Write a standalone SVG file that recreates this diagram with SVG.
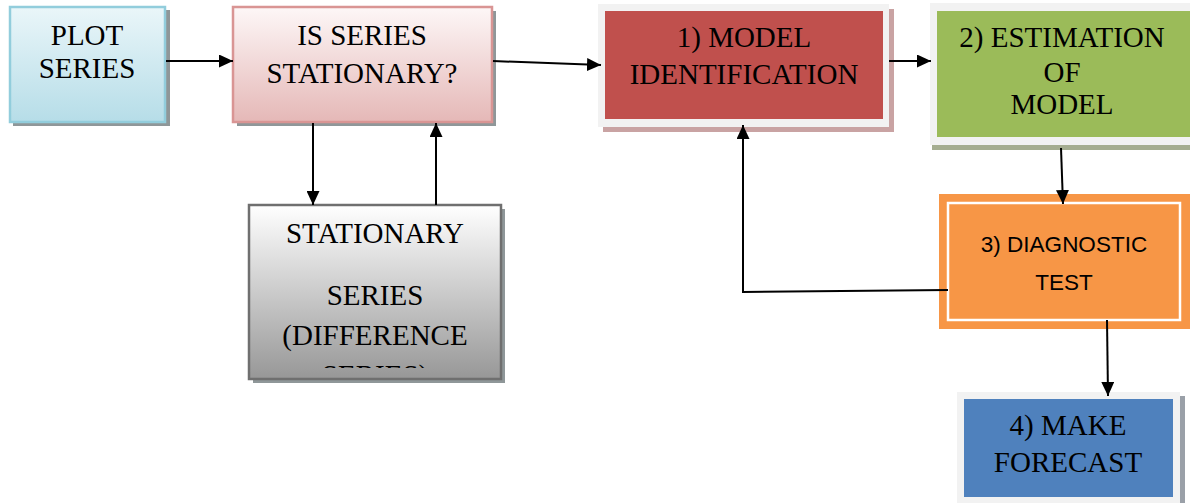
<svg xmlns="http://www.w3.org/2000/svg" width="1190" height="503" viewBox="0 0 1190 503">
<defs>
<linearGradient id="gBlue" x1="0" y1="0" x2="0" y2="1"><stop offset="0" stop-color="#eaf6f9"/><stop offset="1" stop-color="#b6dde8"/></linearGradient>
<linearGradient id="gPink" x1="0" y1="0" x2="0" y2="1"><stop offset="0" stop-color="#fdf7f7"/><stop offset="1" stop-color="#e5b8b7"/></linearGradient>
<linearGradient id="gGray" x1="0" y1="0" x2="0" y2="1"><stop offset="0" stop-color="#ffffff"/><stop offset="1" stop-color="#979797"/></linearGradient>
<marker id="arr" markerWidth="14" markerHeight="13" refX="14" refY="6.5" orient="auto" markerUnits="userSpaceOnUse"><path d="M0,0 L14,6.5 L0,13 Z" fill="#000"/></marker>
<clipPath id="clipStat"><rect x="249" y="205" width="252" height="163"/></clipPath>
</defs>
<style>
.t{font-family:"Liberation Serif","Times New Roman",serif;font-size:29px;fill:#000;text-anchor:middle}
.s{font-family:"Liberation Sans",Arial,sans-serif;font-size:22.5px;fill:#000;text-anchor:middle}
.c{stroke:#000;stroke-width:2;fill:none}
.sh{fill:#8f9799}
</style>
<g id="plot">
<rect x="13" y="10" width="157" height="116" class="sh"/>
<rect x="10" y="7" width="155" height="115" fill="url(#gBlue)" stroke="#92cddc" stroke-width="2.5"/>
<text class="t" x="87" y="45">PLOT</text>
<text class="t" x="87" y="78">SERIES</text>
</g>
<g id="isstat">
<rect x="237" y="11" width="259" height="115" class="sh"/>
<rect x="233" y="7" width="259" height="115" fill="url(#gPink)" stroke="#d99594" stroke-width="2.5"/>
<text class="t" x="362" y="45">IS SERIES</text>
<text class="t" x="362" y="83">STATIONARY?</text>
</g>
<g id="stationary">
<rect x="253" y="209" width="252" height="174" class="sh"/>
<rect x="249" y="205" width="252" height="174" fill="url(#gGray)" stroke="#6f6f6f" stroke-width="2.5"/>
<g clip-path="url(#clipStat)">
<text class="t" x="375" y="243">STATIONARY</text>
<text class="t" x="375" y="305">SERIES</text>
<text class="t" x="375" y="345">(DIFFERENCE</text>
<text class="t" x="375" y="385">SERIES)</text>
</g>
</g>
<g id="model">
<rect x="603" y="9" width="291" height="123" fill="#c9a3a3"/>
<rect x="598" y="4" width="291" height="123" fill="#f2f2f2"/>
<rect x="605" y="11" width="278" height="108" fill="#c0504d"/>
<text class="t" x="744" y="47">1) MODEL</text>
<text class="t" x="744" y="84">IDENTIFICATION</text>
</g>
<g id="estimation">
<rect x="932" y="6" width="260" height="144" fill="#a5ad90"/>
<rect x="930" y="3" width="262" height="142" fill="#f2f2f2"/>
<rect x="937" y="11" width="253" height="126" fill="#9bbb59"/>
<text class="t" x="1062" y="47">2) ESTIMATION</text>
<text class="t" x="1062" y="82">OF</text>
<text class="t" x="1062" y="114">MODEL</text>
</g>
<g id="diagnostic">
<rect x="939" y="194" width="253" height="135" fill="#f79646"/>
<rect x="948" y="203" width="232" height="117" fill="#f79646" stroke="#ffffff" stroke-width="2.5"/>
<text class="s" x="1064" y="252">3) DIAGNOSTIC</text>
<text class="s" x="1064" y="290">TEST</text>
</g>
<g id="forecast">
<rect x="961" y="396" width="224" height="110" fill="#9aa0a8"/>
<rect x="957" y="392" width="223" height="111" fill="#f2f2f2"/>
<rect x="964" y="399" width="209" height="98" fill="#4f81bd"/>
<text class="t" x="1068" y="435">4) MAKE</text>
<text class="t" x="1068" y="472">FORECAST</text>
</g>
<g id="connectors">
<line class="c" x1="166" y1="61" x2="233" y2="61" marker-end="url(#arr)"/>
<line class="c" x1="493" y1="61" x2="601" y2="65" marker-end="url(#arr)"/>
<line class="c" x1="889" y1="61" x2="931" y2="61" marker-end="url(#arr)"/>
<line class="c" x1="313" y1="123" x2="313" y2="205" marker-end="url(#arr)"/>
<line class="c" x1="436" y1="205" x2="436" y2="123" marker-end="url(#arr)"/>
<line class="c" x1="1061" y1="148" x2="1063" y2="204" marker-end="url(#arr)"/>
<polyline class="c" points="948,290 743,292 743,125" marker-end="url(#arr)"/>
<line class="c" x1="1107" y1="320" x2="1108" y2="396" marker-end="url(#arr)"/>
</g>
</svg>
